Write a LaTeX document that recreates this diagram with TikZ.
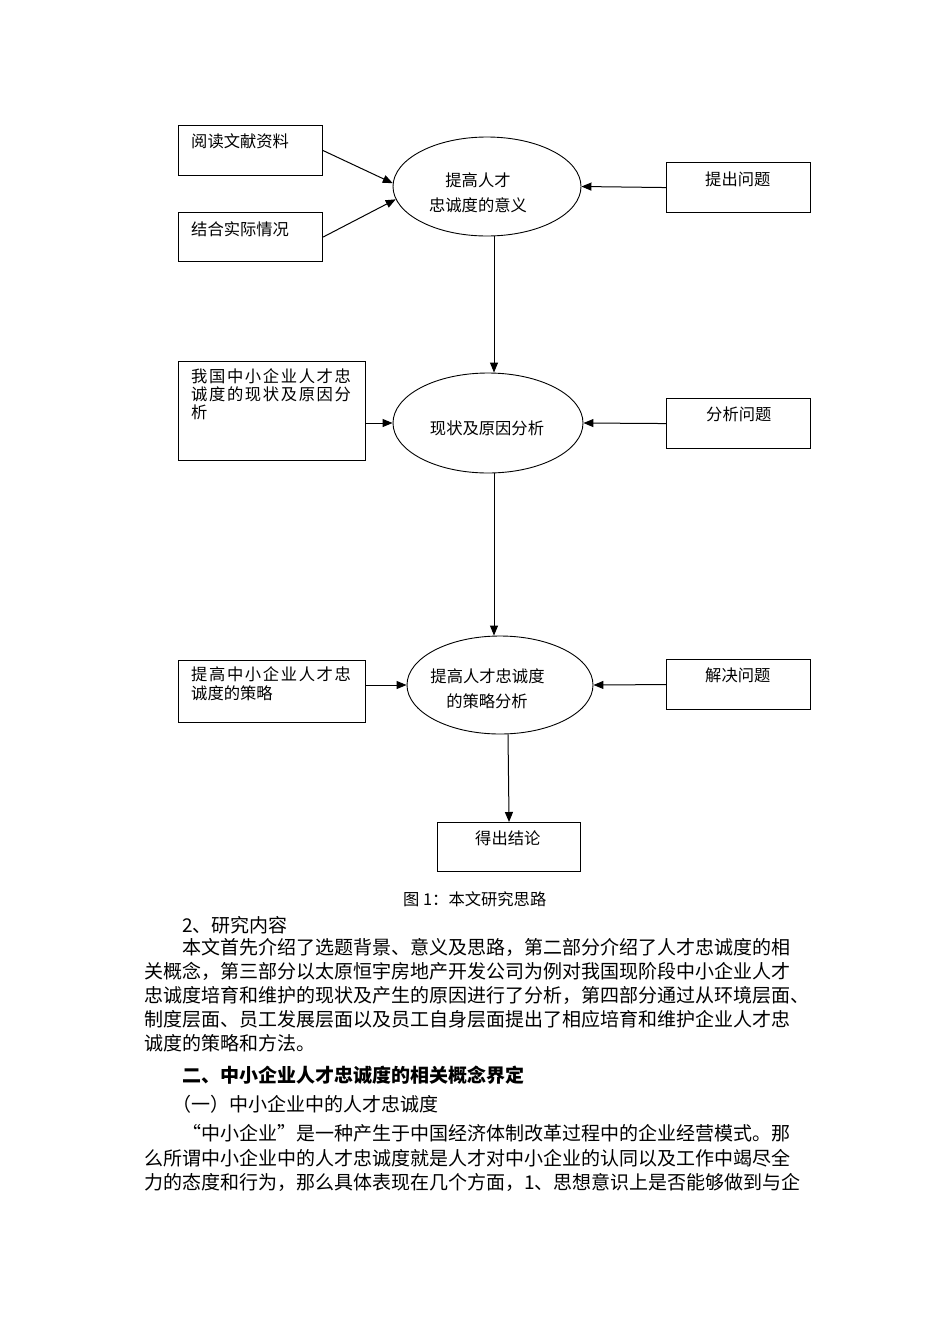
\documentclass[tikz,border=0pt]{standalone}
\usepackage{fontspec}
\setmainfont{Noto Sans CJK SC}
\newfontfamily\spreadfont[LetterSpace=10]{Noto Sans CJK SC}
\usetikzlibrary{shapes.geometric,arrows.meta}
\tikzset{
  boxnode/.style={draw, line width=1.1pt, inner sep=0, anchor=north west},
  ellnode/.style={draw, ellipse, line width=0.9pt, inner sep=0},
  dtext/.style={inner sep=0, text height=14pt, text depth=0pt, font=\fontsize{16.3}{18}\selectfont},
  wtext/.style={dtext, anchor=west},
  ctext/.style={dtext, anchor=center},
  stext/.style={inner sep=0, anchor=west, text height=14pt, text depth=0pt, font=\fontsize{16.3}{18}\selectfont\spreadfont},
  bodytext/.style={inner sep=0, anchor=west, text height=15.5pt, text depth=0pt, font=\fontsize{19}{19}\selectfont},
  arr/.style={-{Triangle[length=10pt,width=8pt]}, line width=1pt}
}
\begin{document}
\begin{tikzpicture}[x=1pt,y=-1pt]
\fill[white] (0,0) rectangle (950,1344);
\useasboundingbox (0,0) rectangle (950,1344);

% boxes
\node[boxnode, minimum width=144pt, minimum height=50pt] (b1) at (178,125) {};
\node[boxnode, minimum width=144pt, minimum height=49pt] (b2) at (178,212) {};
\node[boxnode, minimum width=144pt, minimum height=50pt] (q1) at (666,162) {};
\node[boxnode, minimum width=187pt, minimum height=99pt] (s2) at (178,361) {};
\node[boxnode, minimum width=144pt, minimum height=50pt] (q2) at (666,398) {};
\node[boxnode, minimum width=187pt, minimum height=62pt] (s3) at (178,660) {};
\node[boxnode, minimum width=144pt, minimum height=50pt] (q3) at (666,659) {};
\node[boxnode, minimum width=143pt, minimum height=49pt] (c1) at (437,822) {};

% ellipses
\node[ellnode, minimum width=188pt, minimum height=99pt] (e1) at (487,186.5) {};
\node[ellnode, minimum width=190pt, minimum height=100pt] (e2) at (488,423) {};
\node[ellnode, minimum width=186pt, minimum height=98pt] (e3) at (500,685) {};

% texts in boxes
\node[wtext] (tb1) at (191,140) {阅读文献资料};
\node[wtext] (tb2) at (191,228) {结合实际情况};
\node[wtext] (tq1) at (705,178) {提出问题};
\node[stext] (ts2a) at (191,375) {我国中小企业人才忠};
\node[stext] (ts2b) at (191,393) {诚度的现状及原因分};
\node[wtext] (ts2c) at (191,411) {析};
\node[wtext] (tq2) at (706,413) {分析问题};
\node[stext] (ts3a) at (191,673) {提高中小企业人才忠};
\node[wtext] (ts3b) at (191,692) {诚度的策略};
\node[wtext] (tq3) at (705,674) {解决问题};
\node[wtext] (tc1) at (475,837) {得出结论};

% texts in ellipses
\node[ctext] (te1a) at (478,179) {提高人才};
\node[ctext] (te1b) at (478,204) {忠诚度的意义};
\node[ctext] (te2) at (487,427) {现状及原因分析};
\node[ctext] (te3a) at (487.5,675) {提高人才忠诚度};
\node[ctext] (te3b) at (487,700) {的策略分析};

% arrows
\draw[arr] (b1.east) -- (e1.178);
\draw[arr] (b2.east) -- (e1.188);
\draw[arr] (q1.west) -- (e1.east);
\draw[arr] ([xshift=7pt]e1.south) -- ([xshift=6pt]e2.north);
\draw[arr] (s2.east |- e2.west) -- (e2.west);
\draw[arr] (q2.west) -- (e2.east);
\draw[arr] ([xshift=6pt]e2.south) -- ([xshift=-6pt]e3.north);
\draw[arr] (s3.east |- e3.west) -- (e3.west);
\draw[arr] (q3.west) -- (e3.east);
\draw[arr] ([xshift=8pt]e3.south) -- (c1.north);

% caption
\node[wtext] (cap) at (403,898) {图 1：本文研究思路};

% body text
\node[bodytext] (p0) at (182,925) {2、研究内容};
\node[bodytext] (p1) at (182,947) {本文首先介绍了选题背景、意义及思路，第二部分介绍了人才忠诚度的相};
\node[bodytext] (p2) at (144,971) {关概念，第三部分以太原恒宇房地产开发公司为例对我国现阶段中小企业人才};
\node[bodytext] (p3) at (144,995) {忠诚度培育和维护的现状及产生的原因进行了分析，第四部分通过从环境层面、};
\node[bodytext] (p4) at (144,1019) {制度层面、员工发展层面以及员工自身层面提出了相应培育和维护企业人才忠};
\node[bodytext] (p5) at (144,1043) {诚度的策略和方法。};
\node[bodytext, font=\fontsize{19}{19}\selectfont\bfseries] (h1) at (182,1075) {二、中小企业人才忠诚度的相关概念界定};
\node[bodytext] (h2) at (172,1104) {（一）中小企业中的人才忠诚度};
\node[bodytext] (p6) at (182,1133) {“中小企业”是一种产生于中国经济体制改革过程中的企业经营模式。那};
\node[bodytext] (p7) at (144,1158) {么所谓中小企业中的人才忠诚度就是人才对中小企业的认同以及工作中竭尽全};
\node[bodytext] (p8) at (144,1182) {力的态度和行为，那么具体表现在几个方面，1、思想意识上是否能够做到与企};
\end{tikzpicture}
\end{document}
